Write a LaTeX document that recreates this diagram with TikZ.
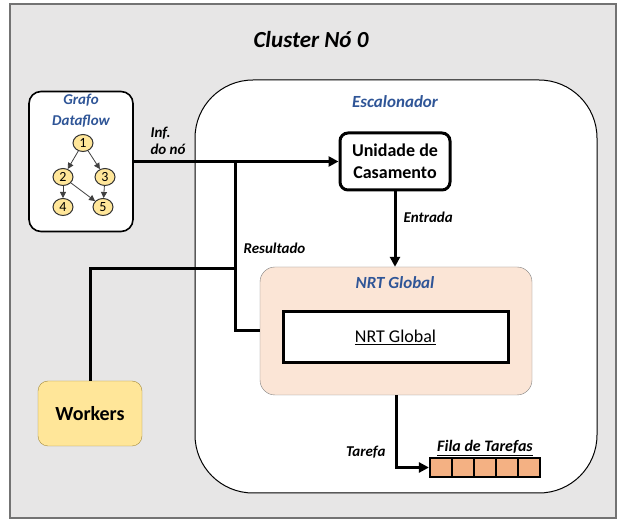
\documentclass[tikz,border=0pt]{standalone}
\usepackage{fontspec}
\setmainfont{Carlito}
\usetikzlibrary{arrows.meta,shapes.geometric}
\definecolor{framegray}{HTML}{E7E6E6}
\definecolor{titleblue}{HTML}{2F5597}
\definecolor{peach}{HTML}{FBE5D6}
\definecolor{queueorange}{HTML}{F4B183}
\definecolor{nodeyellow}{HTML}{FFE699}
\definecolor{workerline}{HTML}{A68B3C}
\tikzset{
  conn/.style={line width=3pt},
  arr/.style={conn,-{Triangle[length=10pt,width=10pt]}},
  lbl/.style={font=\fontsize{15}{17}\selectfont\bfseries\itshape},
  bluetitle/.style={font=\fontsize{17}{20}\selectfont\bfseries\itshape,text=titleblue},
  dfnode/.style={ellipse,draw=black!80,fill=nodeyellow,line width=1pt,minimum width=20pt,minimum height=17pt,inner sep=0pt,font=\fontsize{14}{14}\selectfont},
  dfedge/.style={draw=black!75,line width=0.8pt,-{Triangle[length=6pt,width=6pt]}},
  cell/.style={draw,line width=2.2pt,fill=queueorange,minimum width=22pt,minimum height=19pt,inner sep=0pt}
}
\begin{document}
\begin{tikzpicture}[x=1pt,y=-1pt]
    \useasboundingbox (0,0) rectangle (622,521);
    % Frame %
    \draw[fill=framegray,draw=black!55,line width=1.2pt] (10,4) rectangle (616,518);
    \node[font=\fontsize{23}{26}\selectfont\bfseries\itshape] (title) at (311,40) {Cluster Nó 0};

    % Escalonador %
    \node[draw,fill=white,line width=1pt,rounded corners=58pt,minimum width=402pt,minimum height=413pt] (esc) at (396,286.5) {};
    \node[bluetitle] (esctitle) at (395,102) {Escalonador};

    % Grafo Dataflow %
    \node[draw,fill=white,line width=1.6pt,rounded corners=12pt,minimum width=104pt,minimum height=140pt] (grafo) at (81,161.5) {};
    \node[bluetitle,font=\fontsize{15}{21}\selectfont\bfseries\itshape,align=center] (grafotitle) at (81,111) {Grafo\\Dataflow};
    \node[dfnode] (n1) at (83,143) {1};
    \node[dfnode] (n2) at (63,177) {2};
    \node[dfnode] (n3) at (105,177) {3};
    \node[dfnode] (n4) at (63,207) {4};
    \node[dfnode] (n5) at (103,207) {5};
    \draw[dfedge] (n1) -- (n2);
    \draw[dfedge] (n1) -- (n3);
    \draw[dfedge] (n2) -- (n4);
    \draw[dfedge] (n2) -- (n5);
    \draw[dfedge] (n3) -- (n5);

    % Unidade de Casamento %
    \node[draw,line width=3pt,rounded corners=8pt,fill=white,minimum width=110pt,minimum height=57pt,align=center,font=\fontsize{18}{22}\selectfont\bfseries] (unid) at (395,161.5) {Unidade de\\Casamento};

    % NRT Global %
    \node[draw=black!50,fill=peach,rounded corners=15pt,minimum width=272pt,minimum height=128pt] (nrt) at (396,331) {};
    \node[bluetitle] (nrttitle) at (395,283) {NRT Global};
    \node[draw,line width=3pt,fill=white,minimum width=225pt,minimum height=51pt,font=\fontsize{18}{20}\selectfont] (nrtin) at (395.5,337.5) {\underline{NRT Global}};

    % Workers %
    \node[draw=workerline,fill=nodeyellow,rounded corners=10pt,minimum width=104pt,minimum height=65pt,font=\fontsize{20}{22}\selectfont\bfseries] (workers) at (90,413.5) {Workers};

    % Fila de Tarefas %
    \foreach \i in {1,...,5}
        \node[cell] (cell\i) at ({441+22*(\i-1)},467.5) {};
    \node[lbl,font=\fontsize{16}{18}\selectfont\bfseries\itshape] (filatitle) at (485,448) {\underline{Fila de Tarefas}};

    % Connectors %
    \coordinate (jin) at (235,161.5);
    \coordinate (jres) at (235,269);
    \draw[arr] (grafo.east) -- (unid.west);
    \draw[conn] (jin) |- (nrt.west);
    \draw[conn] (workers.north) |- (jres);
    \draw[arr] (unid.south) -- (unid.south |- nrt.north);
    \draw[arr] (nrt.south) |- (cell1.west);

    % Labels %
    \node[lbl,anchor=west,align=left] (inflbl) at (147,141) {Inf.\\do nó};
    \node[lbl,anchor=west] (reslbl) at (240,248) {Resultado};
    \node[lbl,anchor=west] (entlbl) at (400,217) {Entrada};
    \node[lbl,anchor=east] (tarlbl) at (389,452) {Tarefa};
\end{tikzpicture}
\end{document}
